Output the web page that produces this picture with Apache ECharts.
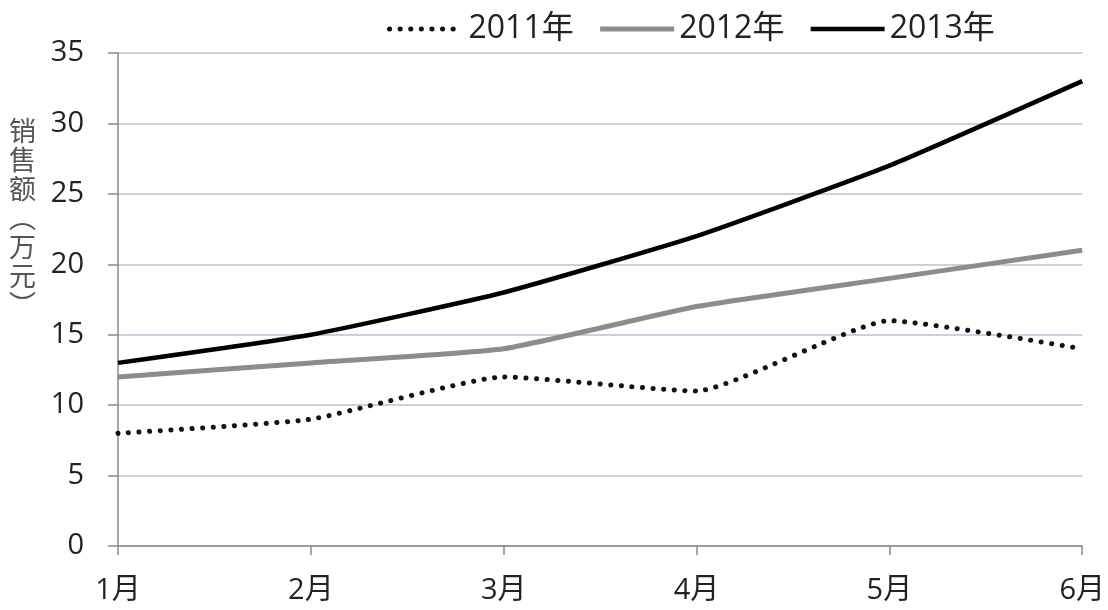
<!DOCTYPE html>
<html>
<head>
<meta charset="utf-8">
<script src="https://cdn.jsdelivr.net/npm/echarts@6/dist/echarts.min.js"></script>
<style>
  html, body { margin: 0; padding: 0; background: #fff; }
  #chart { width: 1108px; height: 610px; }
</style>
</head>
<body>
<div id="chart"></div>
<script>
const months = ['1月', '2月', '3月', '4月', '5月', '6月'];
const sales2011 = [8, 9, 12, 11, 16, 14];
const sales2012 = [12, 13, 14, 17, 19, 21];
const sales2013 = [13, 15, 18, 22, 27, 33];
const yTitle = '销\n售\n额\n︵\n万\n元\n︶';

const fontFamily = '"Open Sans", "Noto Sans CJK SC", sans-serif';

const myChart = echarts.init(document.getElementById('chart'));

const option = {
  backgroundColor: '#ffffff',
  animation: false,
  legend: {
    left: 382,
    top: 8,
    itemWidth: 74,
    itemHeight: 10,
    itemGap: 24,
    itemStyle: { opacity: 0 },
    lineStyle: { width: 'inherit' },
    textStyle: { fontFamily, fontSize: 32, color: '#222' },
    data: ['2011年', '2012年', '2013年']
  },
  graphic: [{
    type: 'text',
    left: 9,
    top: 116,
    style: {
      text: yTitle,
      fontFamily: '"Noto Sans CJK SC", sans-serif',
      fontSize: 27,
      lineHeight: 29,
      fill: '#555',
      align: 'center'
    }
  }],
  grid: {
    left: 118,
    right: 25,
    top: 53,
    bottom: 64
  },
  xAxis: {
    type: 'category',
    boundaryGap: false,
    data: months,
    axisLine: { lineStyle: { color: '#8a8a8a', width: 1.5 } },
    axisTick: { show: true, length: 9, lineStyle: { color: '#8a8a8a', width: 1.5 } },
    axisLabel: { fontFamily, fontSize: 29, color: '#222', margin: 30 },
    splitLine: { show: false }
  },
  yAxis: {
    type: 'value',
    min: 0,
    max: 35,
    interval: 5,
    axisLine: { show: true, lineStyle: { color: '#8a8a8a', width: 1.5 } },
    axisTick: { show: true, length: 10, lineStyle: { color: '#8a8a8a', width: 1.5 } },
    axisLabel: { fontFamily, fontSize: 29, color: '#222', margin: 34 },
    splitLine: { lineStyle: { color: '#b3c5d3', width: 1.5 } }
  },
  series: [
    {
      name: '2011年',
      type: 'line',
      data: sales2011,
      smooth: 0.15,
      symbol: 'none',
      lineStyle: { color: '#111', width: 5, type: [0.1, 10.5], cap: 'round' },
      itemStyle: { color: '#111' }
    },
    {
      name: '2012年',
      type: 'line',
      data: sales2012,
      smooth: 0.15,
      symbol: 'none',
      lineStyle: { color: '#8c8c8c', width: 5 },
      itemStyle: { color: '#8c8c8c' }
    },
    {
      name: '2013年',
      type: 'line',
      data: sales2013,
      smooth: 0.15,
      symbol: 'none',
      lineStyle: { color: '#000', width: 4.5 },
      itemStyle: { color: '#000' }
    }
  ]
};

myChart.setOption(option);
</script>
</body>
</html>
